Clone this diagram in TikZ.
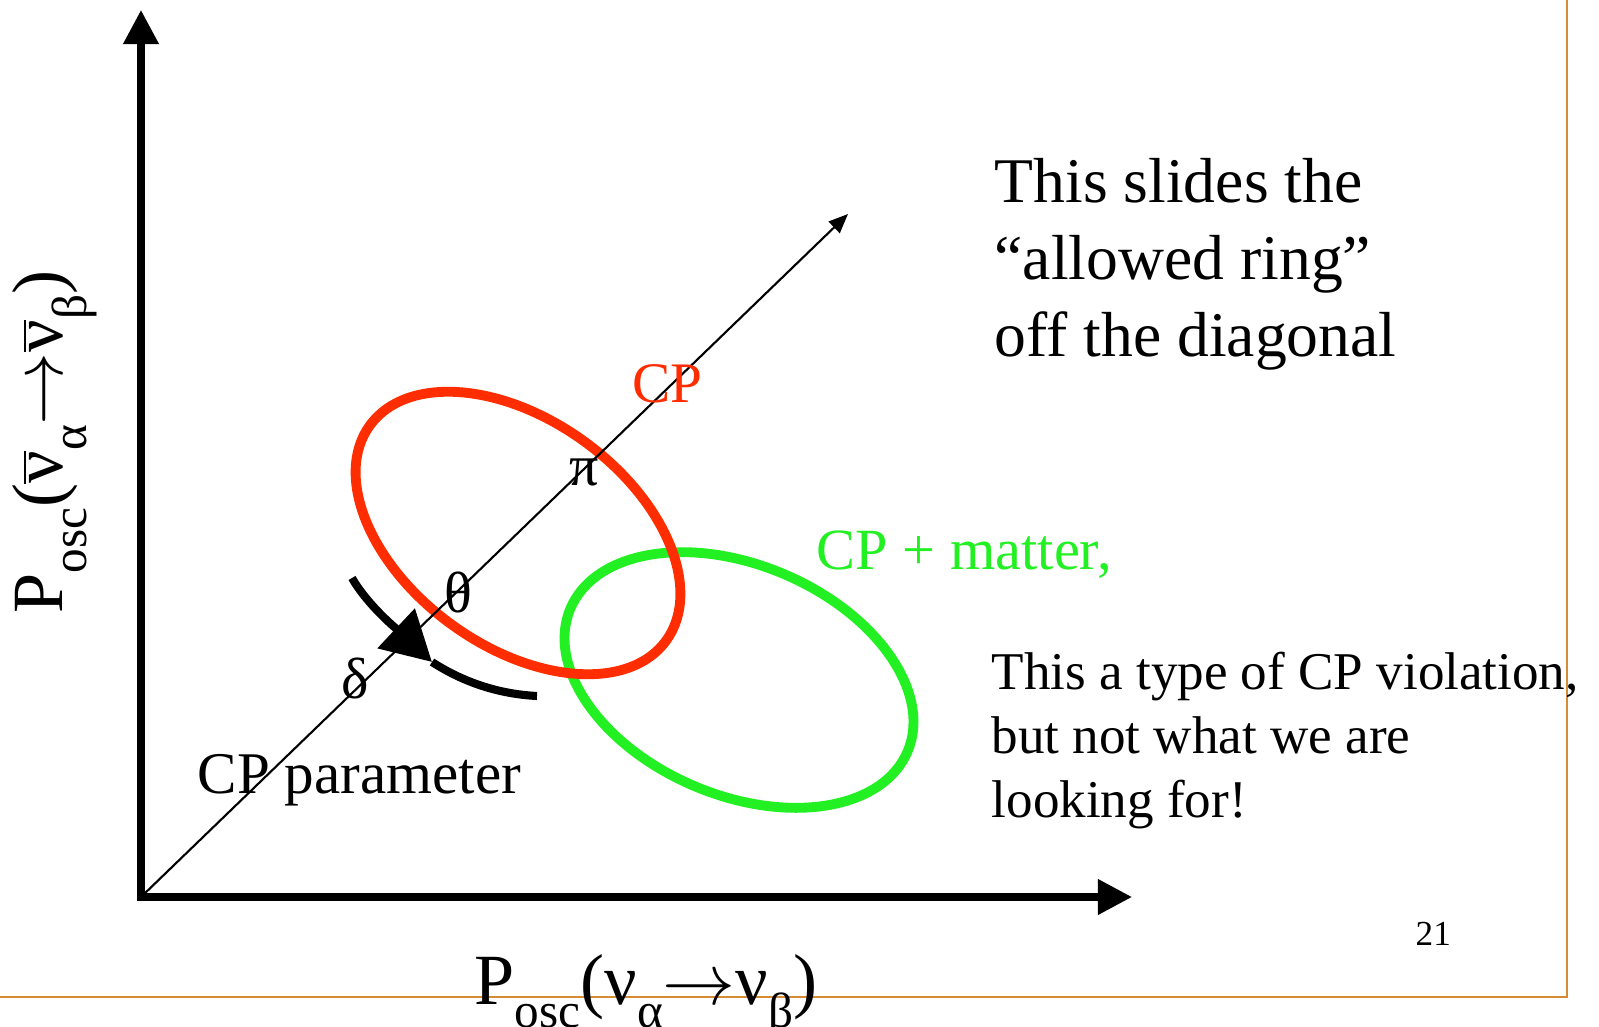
\documentclass[tikz,border=0pt]{standalone}
\usepackage{fontspec}
\setmainfont{Liberation Serif}
\usetikzlibrary{arrows.meta,shapes.geometric}
\definecolor{cpred}{RGB}{255,45,0}
\definecolor{cpgreen}{RGB}{35,240,35}
\definecolor{slideframe}{RGB}{214,140,50}
\newcommand{\dn}[1]{\raisebox{-.32em}{\fontsize{14}{14}\selectfont #1}}
\newcommand{\nubar}{$\overline{\hbox{ν}}$}
\newcommand{\goesto}{$\rightarrow$}

\begin{document}
\begin{tikzpicture}[x=0.01cm, y=-0.01cm, txt/.style={inner sep=0,anchor=base west}, ring/.style={draw,ellipse,line width=2.8pt,inner sep=0,minimum width=3.66cm}, axisline/.style={line width=2pt,line cap=rect,-{Triangle[length=9.7pt,width=9.7pt]}}, sweep/.style={line width=2.3pt}]
\useasboundingbox (0,0) rectangle (1599,1027);
\draw[slideframe,line width=0.6pt] (0,997) -| (1567,0);
\coordinate (o) at (141,897); \coordinate (ytip) at (141,10); \coordinate (xtip) at (1132,897); \coordinate (dtip) at (848,214);
\node[ring,draw=cpgreen,minimum height=2.3cm,rotate=-23] (mring) at (739,680) {};
\node[ring,draw=cpred,minimum height=2.26cm,rotate=-36] (cpring) at (518,533) {};
\draw[axisline] (o) -- (ytip); \draw[axisline] (o) -- (xtip);
\draw[line width=0.6pt,-{Triangle[length=5.5pt,width=4.5pt]}] (o) -- (dtip);
\coordinate (sa) at (352,578); \coordinate (sm) at (432,662); \coordinate (sb) at (537,696);
\draw[sweep,-{Triangle[length=14pt,width=15pt]}] (sa) .. controls (368,606) and (400,632) .. (sm);
\draw[sweep] (sm) .. controls (463,682) and (498,694) .. (sb);
\node[txt,cpred,font=\fontsize{16.3}{19}\selectfont] (cplab) at (632,402) {CP};
\node[txt,cpgreen,font=\fontsize{16.6}{19}\selectfont] (mlab) at (816,569) {CP + matter,};
\node[txt,font=\fontsize{16.8}{19}\selectfont] (parlab) at (197,793) {CP parameter};
\node[inner sep=0,font=\fontsize{16.5}{19}\selectfont] (pi) at (584,472) {π};
\node[inner sep=0,font=\fontsize{16.5}{19}\selectfont] (theta) at (458,592) {θ};
\node[inner sep=0,font=\fontsize{16.5}{19}\selectfont] (delta) at (355,679) {δ};
\node[inner sep=0,anchor=north west,align=left,font=\fontsize{18.1}{21.8}\selectfont] (slide) at (994,158) {This slides the\\“allowed ring”\\off the diagonal};
\node[inner sep=0,anchor=north west,align=left,font=\fontsize{15.1}{18.2}\selectfont] (note) at (991,651) {This a type of CP violation,\\but not what we are\\looking for!};
\node[txt,font=\fontsize{10}{12}\selectfont] (pg) at (1415,945) {21};
\node[txt,font=\fontsize{20.5}{23}\selectfont] (xlab) at (474,1004) {P\dn{osc}(ν\dn{α}\goesto ν\dn{β})};
\node[txt,rotate=90,font=\fontsize{20.5}{23}\selectfont] (ylab) at (63,614) {P\dn{osc}(\nubar\dn{α}\goesto\nubar\dn{β})};
\end{tikzpicture}
\end{document}
